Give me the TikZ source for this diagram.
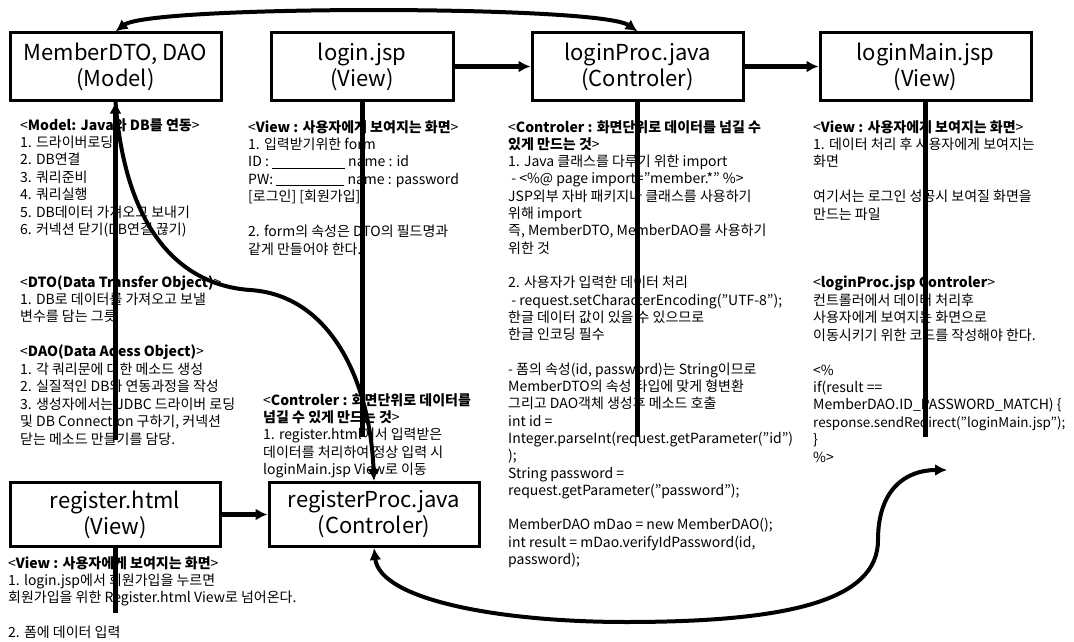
\documentclass[tikz,border=0pt]{standalone}
\usepackage{fontspec}
\setmainfont{Noto Sans CJK KR}
\usetikzlibrary{arrows.meta}
\begin{document}
\begin{tikzpicture}[
x=1pt,y=-1pt,
box/.style={draw,line width=3pt,minimum width=211pt,minimum height=67pt,align=center,font=\fontsize{22}{26}\selectfont},
note/.style={anchor=north west,align=left,inner sep=0pt,font=\fontsize{14}{17.45}\selectfont},
flow/.style={line width=5pt,-{Latex[length=12pt,width=12pt]}},
bond/.style={line width=4pt,-{Latex[length=12pt,width=12pt]}},
link/.style={line width=4pt,{Latex[length=12pt,width=12pt]}-{Latex[length=12pt,width=12pt]}},
]
\useasboundingbox(0,0)rectangle(1074,642);

%notes
\node[note](modeltext)at(20,118){<\textbf{Model: Java와 DB를 연동}>\\
1. 드라이버로딩\\
2. DB연결\\
3. 쿼리준비\\
4. 쿼리실행\\
5. DB데이터 가져오고 보내기\\
6. 커넥션 닫기(DB연결 끊기)\\~\\~\\
<\textbf{DTO(Data Transfer Object)}>\\
1. DB로 데이터를 가져오고 보낼\\
변수를 담는 그릇\\~\\
<\textbf{DAO(Data Adess Object)}>\\
1. 각 쿼리문에 대한 메소드 생성\\
2. 실질적인 DB와 연동과정을 작성\\
3. 생성자에서는 JDBC 드라이버 로딩\\
및 DB Connection 구하기, 커넥션\\
닫는 메소드 만들기를 담당.};

\node[note](logintext)at(248,120){<\textbf{View : 사용자에게 보여지는 화면}>\\
1. 입력받기위한 form\\
ID : \rule[-1.5pt]{73pt}{0.8pt} name : id\\
PW: \rule[-1.5pt]{68pt}{0.8pt} name : password\\
{}[로그인] [회원가입]\\~\\
2. form의 속성은 DTO의 필드명과\\
같게 만들어야 한다.};

\node[note](regproctext)at(263,393){<\textbf{Controler : 화면단위로 데이터를}\\
\textbf{넘길 수 있게 만드는 것}>\\
1. register.html에서 입력받은\\
데이터를 처리하여 정상 입력 시\\
loginMain.jsp View로 이동};

\node[note,font=\fontsize{14}{17.3}\selectfont](proctext)at(508,120){<\textbf{Controler : 화면단위로 데이터를 넘길 수}\\
\textbf{있게 만드는 것}>\\
1. Java 클래스를 다루기 위한 import\\
\ - <\%@ page import="member.*" \%>\\
JSP외부 자바 패키지나 클래스를 사용하기\\
위해 import\\
즉, MemberDTO, MemberDAO를 사용하기\\
위한 것\\~\\
2. 사용자가 입력한 데이터 처리\\
\ - request.setCharacterEncoding("UTF-8");\\
한글 데이터 값이 있을 수 있으므로\\
한글 인코딩 필수\\~\\
- 폼의 속성(id, password)는 String이므로\\
MemberDTO의 속성 타입에 맞게 형변환\\
그리고 DAO객체 생성후 메소드 호출\\
int id =\\
Integer.parseInt(request.getParameter("id")\\
);\\
String password =\\
request.getParameter("password");\\~\\
MemberDAO mDao = new MemberDAO();\\
int result = mDao.verifyIdPassword(id,\\
password);};

\node[note](maintext)at(813,120){<\textbf{View : 사용자에게 보여지는 화면}>\\
1. 데이터 처리 후 사용자에게 보여지는\\
화면\\~\\
여기서는 로그인 성공시 보여질 화면을\\
만드는 파일};

\node[note](mainctrltext)at(813,276){<\textbf{loginProc.jsp Controler}>\\
컨트롤러에서 데이터 처리후\\
사용자에게 보여지는 화면으로\\
이동시키기 위한 코드를 작성해야 한다.\\~\\
<\%\\
if(result ==\\
MemberDAO.ID\_PASSWORD\_MATCH) \{\\
{\fontsize{13.4}{17.45}\selectfont response.sendRedirect("loginMain.jsp");}\\
\}\\
\%>};

\node[note](regtext)at(8,556){<\textbf{View : 사용자에게 보여지는 화면}>\\
1. login.jsp에서 회원가입을 누르면\\
회원가입을 위한 Register.html View로 넘어온다.\\~\\
2. 폼에 데이터 입력};

%boxes
\node[box](model)at(115.5,66.5){MemberDTO, DAO\\(Model)};
\node[box,minimum width=182pt](login)at(362,66.5){login.jsp\\(View)};
\node[box](loginproc)at(637.5,66.5){loginProc.java\\(Controler)};
\node[box](loginmain)at(925.5,66.5){loginMain.jsp\\(View)};
\node[box,minimum width=210pt,minimum height=64pt](register)at(115,514.5){register.html\\(View)};
\node[box,minimum width=210pt,minimum height=64pt](registerproc)at(374,514.5){registerProc.java\\(Controler)};

%free ends
\coordinate(modelfoot)at(115.5,440);
\coordinate(loginfoot)at(362,437);
\coordinate(procfoot)at(637.5,437);
\coordinate(mainfoot)at(925.5,437);
\coordinate(regfoot)at(115,613);
\coordinate(curveend)at(947,470);

%connectors
\draw[flow](login)--(loginproc);
\draw[flow](loginproc)--(loginmain);
\draw[flow](register)--(registerproc);
\draw[flow](modelfoot)--(model.south);
\draw[line width=5pt](login.south)--(loginfoot);
\draw[line width=5pt](loginproc.south)--(procfoot);
\draw[line width=5pt](loginmain.south)--(mainfoot);
\draw[line width=5pt](register.south)--(regfoot);

\draw[link](model.north)..controls(150,5)and(600,5)..(loginproc.north);
\draw[bond](model.south)..controls(125,230)and(180,285)..(250,290)
 ..controls(330,295)and(370,380)..(registerproc.north);
\draw[link](registerproc.south)..controls(380,600)and(500,622)..(626,622)
 ..controls(790,622)and(878,600)..(878,540)
 ..controls(878,490)and(905,470)..(curveend);

\end{tikzpicture}
\end{document}
